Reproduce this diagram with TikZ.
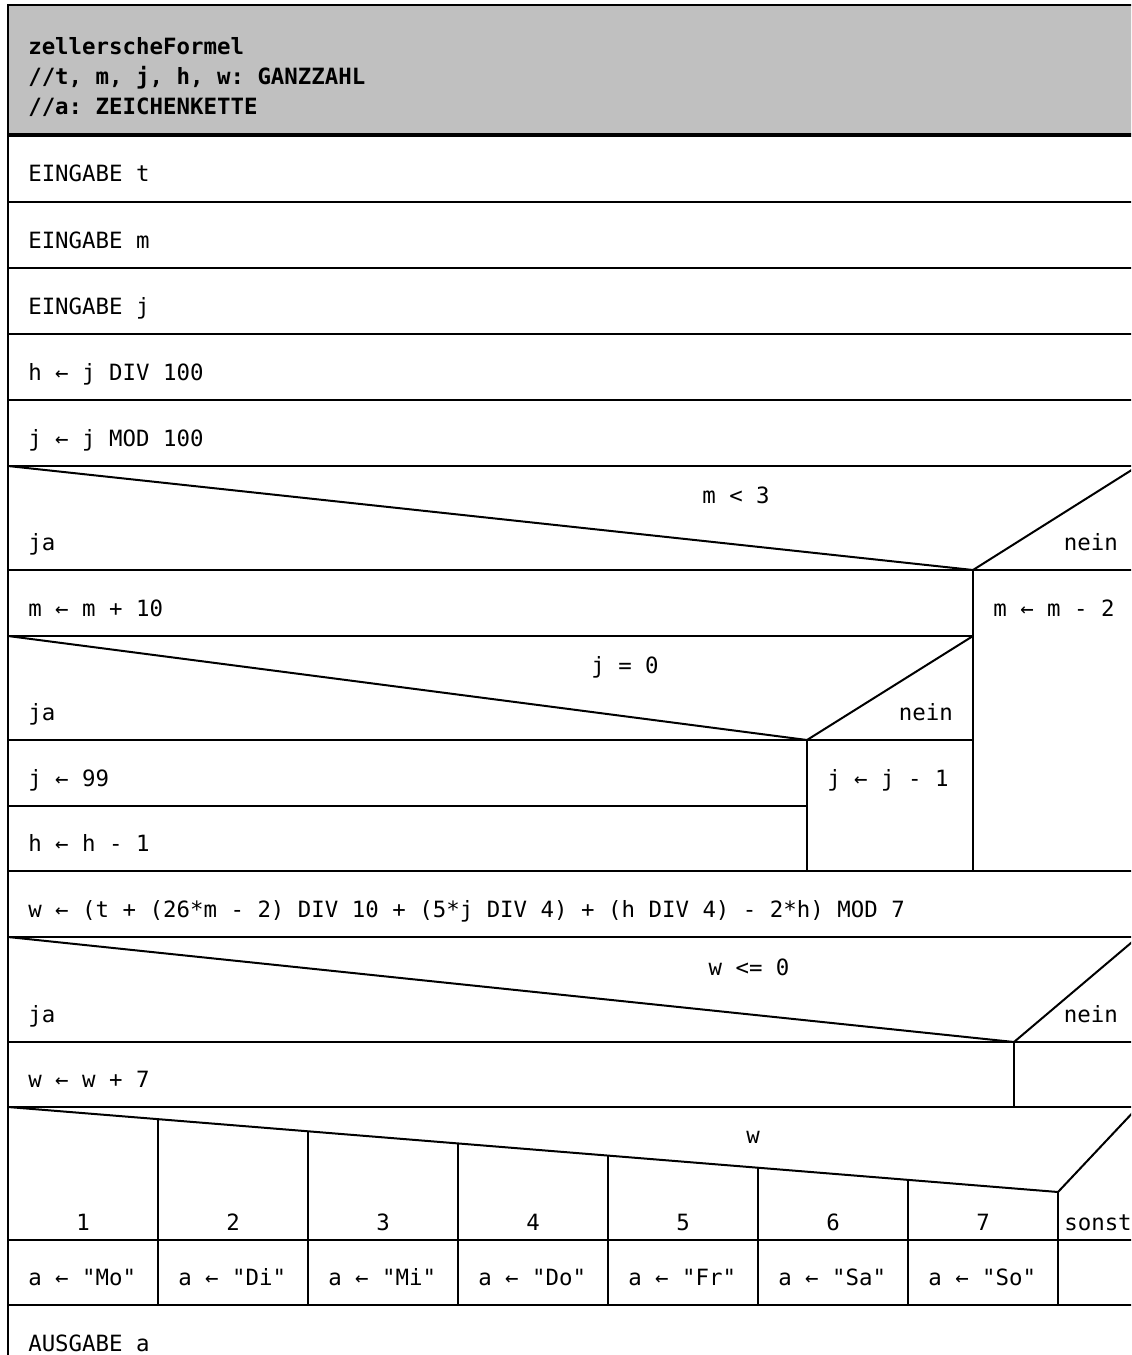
\documentclass[tikz,border=0pt]{standalone}
\usepackage{fontspec}
\setmonofont{DejaVu Sans Mono}
\usetikzlibrary{positioning, calc}
\usepackage{xcolor}
\definecolor{headgray}{HTML}{C0C0C0}
\newcommand{\nsfont}{\ttfamily\fontsize{16.8}{22.5}\selectfont}

% Nassi-Shneiderman blocks, coordinates in pixels (y downwards)
\tikzset{
  nsline/.style={line width=1.5pt},
  nsheadline/.style={line width=2.3pt},
  stmt/.style={anchor=base west, inner sep=0pt},
  stmtright/.style={anchor=base east, inner sep=0pt},
  cond/.style={anchor=base, inner sep=0pt},
  headtext/.style={stmt, font=\nsfont\bfseries}
}

\begin{document}
\begin{tikzpicture}[x=0.75pt, y=-0.75pt, font=\nsfont]
    \useasboundingbox (0,0) rectangle (1131,1355);
    \clip (0,0) rectangle (1131,1355);

    % header
    \fill[headgray] (8,5) rectangle (1138,135);
    \node[headtext] (name) at (28,55) {zellerscheFormel};
    \node[headtext] (decl1) at (28,85) {//t, m, j, h, w: GANZZAHL};
    \node[headtext] (decl2) at (28,115) {//a: ZEICHENKETTE};
    \draw[nsline] (8,1400) -- (8,5) -- (1138,5);
    \draw[nsheadline] (8,135) -- (1138,135);

    % plain statements
    \foreach \y/\txt [count=\i] in {182/EINGABE t, 248/EINGABE m, 314/EINGABE j,
        380/h ← j DIV 100, 446/j ← j MOD 100} {
      \node[stmt] (s\i) at (28,\y) {\txt};
    }
    \foreach \y in {202,268,334,400,466,570,871,937,1042,1107,1240,1305}
      \draw[nsline] (8,\y) -- (1138,\y);

    % if m < 3
    \draw[nsline] (8,466) -- (973,570) -- (1138,466);
    \node[cond] (c1) at (736,503) {m < 3};
    \node[stmt] (c1ja) at (28,550) {ja};
    \node[stmtright] (c1nein) at (1118,550) {nein};
    \draw[nsline] (973,570) -- (973,871);
    \node[stmt] (m1) at (28,616) {m ← m + 10};
    \node[stmt] (m2) at (993,616) {m ← m - 2};
    \draw[nsline] (8,636) -- (973,636);

    % if j = 0
    \draw[nsline] (8,636) -- (807,740) -- (973,636);
    \node[cond] (c2) at (625,673) {j = 0};
    \node[stmt] (c2ja) at (28,720) {ja};
    \node[stmtright] (c2nein) at (953,720) {nein};
    \draw[nsline] (8,740) -- (973,740);
    \draw[nsline] (807,740) -- (807,871);
    \draw[nsline] (8,806) -- (807,806);
    \node[stmt] (j1) at (28,786) {j ← 99};
    \node[stmt] (h1) at (28,851) {h ← h - 1};
    \node[stmt] (j2) at (827,786) {j ← j - 1};

    % weekday
    \node[stmt] (wcalc) at (28,917) {w ← (t + (26*m - 2) DIV 10 + (5*j DIV 4) + (h DIV 4) - 2*h) MOD 7};

    % if w <= 0
    \draw[nsline] (8,937) -- (1014,1042) -- (1138,937);
    \node[cond] (c3) at (749,975) {w <= 0};
    \node[stmt] (c3ja) at (28,1022) {ja};
    \node[stmtright] (c3nein) at (1118,1022) {nein};
    \draw[nsline] (1014,1042) -- (1014,1107);
    \node[stmt] (w1) at (28,1087) {w ← w + 7};

    % case w
    \draw[nsline] (8,1107) -- (1058,1192) -- (1138,1107);
    \node[cond] (c4) at (753,1143) {w};
    \foreach \d/\tag in {1/Mo,2/Di,3/Mi,4/Do,5/Fr,6/Sa,7/So} {
      \pgfmathsetmacro{\xs}{8+150*\d}
      \pgfmathsetmacro{\ys}{1107+(\xs-8)/1050*85}
      \draw[nsline] (\xs,\ys) -- (\xs,1305);
      \node[cond] (k\d) at (\xs-75,1230) {\d};
      \node[stmt] (a\d) at (\xs-130,1285) {a ← "\tag"};
    }
    \node[cond] (ksonst) at (1098,1230) {sonst};

    % output
    \node[stmt] (out) at (28,1351) {AUSGABE a};
\end{tikzpicture}
\end{document}
